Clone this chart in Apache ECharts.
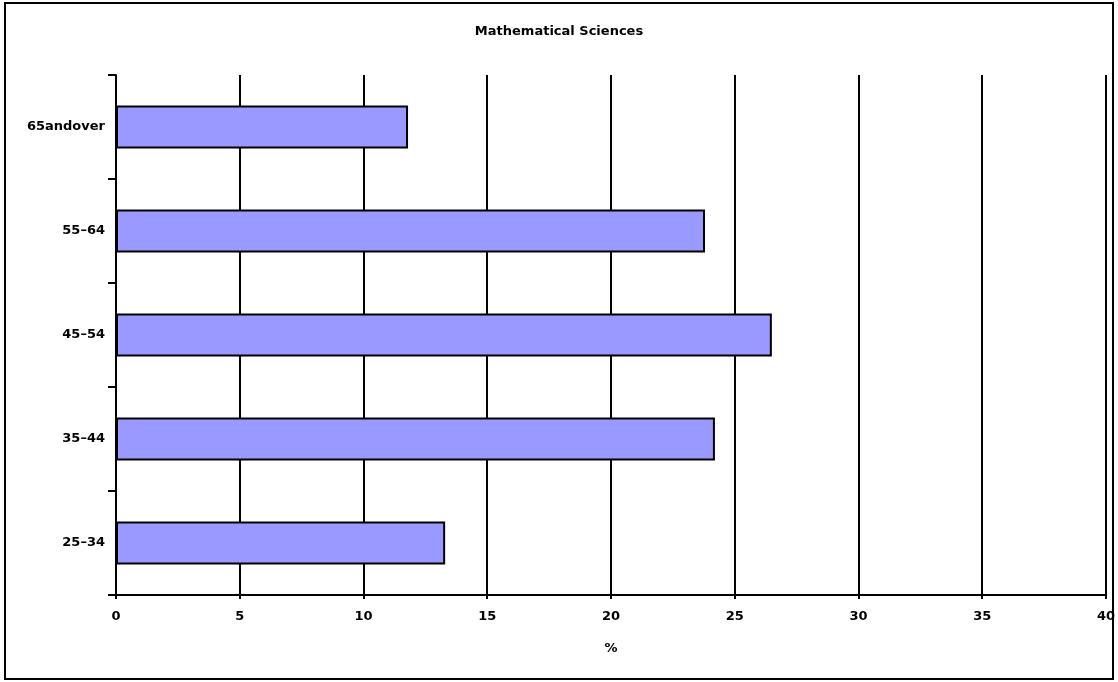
<!DOCTYPE html>
<html><head><meta charset="utf-8">
<script src="https://cdn.jsdelivr.net/npm/echarts@6/dist/echarts.min.js"></script>
<style>html,body{margin:0;padding:0;background:#fff;}#c{width:1118px;height:682px;}</style>
</head><body><div id="c"></div>
<script>
const categories = ['25\u201334', '35\u201344', '45\u201354', '55\u201364', '65andover'];
const values = [13.3, 24.2, 26.5, 23.8, 11.8];
const xTicks = [0, 5, 10, 15, 20, 25, 30, 35, 40];
const titleText = 'Mathematical Sciences';
const xName = '%';

const chart = echarts.init(document.getElementById('c'), null, {renderer: 'canvas'});
chart.setOption({
  backgroundColor: '#fff',
  animation: false,
  title: {text: titleText, left: 'center', top: 20, textStyle: {fontFamily: 'DejaVu Sans', fontSize: 13, fontWeight: 'bold', color: '#000'}},
  graphic: [{type: 'rect', shape: {x: 5, y: 3, width: 1108, height: 676}, style: {fill: 'none', stroke: '#000', lineWidth: 2}, z: 100}],
  grid: {left: 116, right: 12, top: 75, bottom: 87, containLabel: false},
  xAxis: {
    type: 'value', min: xTicks[0], max: xTicks[xTicks.length - 1], interval: 5,
    name: xName, nameLocation: 'middle', nameGap: 47,
    nameTextStyle: {fontFamily: 'DejaVu Sans', fontSize: 13, fontWeight: 'bold', color: '#000'},
    axisLine: {show: true, lineStyle: {color: '#000', width: 2}},
    axisTick: {show: true, length: 4, lineStyle: {color: '#000', width: 2}},
    axisLabel: {fontFamily: 'DejaVu Sans', fontSize: 13, fontWeight: 'bold', color: '#000', margin: 15},
    splitLine: {show: true, lineStyle: {color: '#000', width: 2}}
  },
  yAxis: {
    type: 'category', data: categories,
    axisLine: {show: true, lineStyle: {color: '#000', width: 2}},
    axisTick: {show: true, length: 8, lineStyle: {color: '#000', width: 2}},
    axisLabel: {fontFamily: 'DejaVu Sans', fontSize: 13, fontWeight: 'bold', color: '#000', margin: 11},
    splitLine: {show: false}
  },
  series: [{
    type: 'bar', data: values, barWidth: 43,
    itemStyle: {color: '#9999ff', borderColor: '#000', borderWidth: 2}
  }]
});
</script></body></html>
